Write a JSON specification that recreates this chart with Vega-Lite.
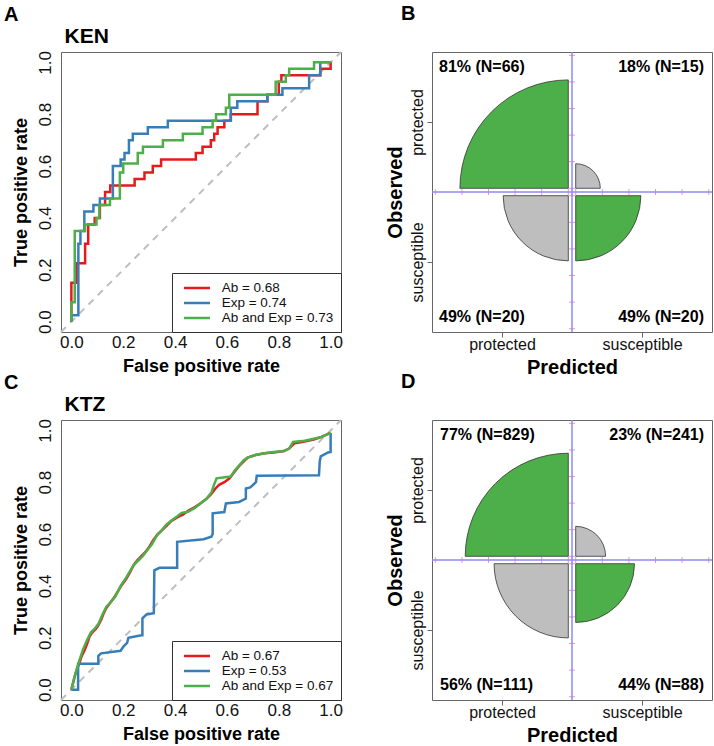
{
"$schema":"https://vega.github.io/schema/vega-lite/v6.json",
"padding":{"left":3,"top":3,"right":3,"bottom":0},
"background":"white",
"config":{
 "font":"Liberation Sans",
 "view":{"stroke":"#666","strokeWidth":1},
 "axis":{"grid":false,"domain":false,"tickColor":"#444","tickWidth":1,"labelColor":"#111","titleColor":"#000","titleFontWeight":"bold","labelFont":"Liberation Sans","titleFont":"Liberation Sans","labelFlush":false,"labelOverlap":false},
 "legend":{"orient":"bottom-right","offset":0,"padding":7,"strokeColor":"#333","fillColor":"white","symbolType":"M-0.46,0H3.54","symbolSize":169,"symbolStrokeWidth":2.5,"symbolOffset":0,"labelOffset":26.7,"rowPadding":0,"labelFontSize":13.5,"labelFont":"Liberation Sans","labelColor":"#111"},
 "title":{"font":"Liberation Sans","fontWeight":"bold","color":"#000","anchor":"start","frame":"group"}
},
"datasets":{
 "ken":[
  {"m":"Ab = 0.68","i":0,"x":0,"y":0},{"m":"Ab = 0.68","i":1,"x":0,"y":0.15},{"m":"Ab = 0.68","i":2,"x":0.02,"y":0.15},{"m":"Ab = 0.68","i":3,"x":0.02,"y":0.225},{"m":"Ab = 0.68","i":4,"x":0.053,"y":0.225},{"m":"Ab = 0.68","i":5,"x":0.053,"y":0.3},{"m":"Ab = 0.68","i":6,"x":0.065,"y":0.3},{"m":"Ab = 0.68","i":7,"x":0.065,"y":0.375},{"m":"Ab = 0.68","i":8,"x":0.09,"y":0.375},{"m":"Ab = 0.68","i":9,"x":0.09,"y":0.4},{"m":"Ab = 0.68","i":10,"x":0.11,"y":0.4},{"m":"Ab = 0.68","i":11,"x":0.11,"y":0.45},{"m":"Ab = 0.68","i":12,"x":0.13,"y":0.45},{"m":"Ab = 0.68","i":13,"x":0.13,"y":0.5},{"m":"Ab = 0.68","i":14,"x":0.15,"y":0.5},{"m":"Ab = 0.68","i":15,"x":0.15,"y":0.525},{"m":"Ab = 0.68","i":16,"x":0.244,"y":0.525},{"m":"Ab = 0.68","i":17,"x":0.244,"y":0.55},{"m":"Ab = 0.68","i":18,"x":0.282,"y":0.55},{"m":"Ab = 0.68","i":19,"x":0.282,"y":0.575},{"m":"Ab = 0.68","i":20,"x":0.314,"y":0.575},{"m":"Ab = 0.68","i":21,"x":0.314,"y":0.6},{"m":"Ab = 0.68","i":22,"x":0.346,"y":0.6},{"m":"Ab = 0.68","i":23,"x":0.346,"y":0.625},{"m":"Ab = 0.68","i":24,"x":0.48,"y":0.625},{"m":"Ab = 0.68","i":25,"x":0.48,"y":0.65},{"m":"Ab = 0.68","i":26,"x":0.506,"y":0.65},{"m":"Ab = 0.68","i":27,"x":0.506,"y":0.675},{"m":"Ab = 0.68","i":28,"x":0.538,"y":0.675},{"m":"Ab = 0.68","i":29,"x":0.538,"y":0.7},{"m":"Ab = 0.68","i":30,"x":0.551,"y":0.7},{"m":"Ab = 0.68","i":31,"x":0.551,"y":0.725},{"m":"Ab = 0.68","i":32,"x":0.564,"y":0.725},{"m":"Ab = 0.68","i":33,"x":0.564,"y":0.75},{"m":"Ab = 0.68","i":34,"x":0.59,"y":0.75},{"m":"Ab = 0.68","i":35,"x":0.59,"y":0.775},{"m":"Ab = 0.68","i":36,"x":0.615,"y":0.775},{"m":"Ab = 0.68","i":37,"x":0.615,"y":0.8},{"m":"Ab = 0.68","i":38,"x":0.718,"y":0.8},{"m":"Ab = 0.68","i":39,"x":0.718,"y":0.85},{"m":"Ab = 0.68","i":40,"x":0.756,"y":0.85},{"m":"Ab = 0.68","i":41,"x":0.756,"y":0.875},{"m":"Ab = 0.68","i":42,"x":0.8,"y":0.875},{"m":"Ab = 0.68","i":43,"x":0.8,"y":0.925},{"m":"Ab = 0.68","i":44,"x":0.81,"y":0.925},{"m":"Ab = 0.68","i":45,"x":0.81,"y":0.95},{"m":"Ab = 0.68","i":46,"x":0.96,"y":0.95},{"m":"Ab = 0.68","i":47,"x":0.96,"y":0.975},{"m":"Ab = 0.68","i":48,"x":1,"y":0.975},{"m":"Ab = 0.68","i":49,"x":1,"y":1},
  {"m":"Exp = 0.74","i":0,"x":0,"y":0},{"m":"Exp = 0.74","i":1,"x":0,"y":0.025},{"m":"Exp = 0.74","i":2,"x":0.027,"y":0.025},{"m":"Exp = 0.74","i":3,"x":0.027,"y":0.3},{"m":"Exp = 0.74","i":4,"x":0.035,"y":0.3},{"m":"Exp = 0.74","i":5,"x":0.035,"y":0.35},{"m":"Exp = 0.74","i":6,"x":0.05,"y":0.35},{"m":"Exp = 0.74","i":7,"x":0.05,"y":0.425},{"m":"Exp = 0.74","i":8,"x":0.085,"y":0.425},{"m":"Exp = 0.74","i":9,"x":0.085,"y":0.45},{"m":"Exp = 0.74","i":10,"x":0.11,"y":0.45},{"m":"Exp = 0.74","i":11,"x":0.11,"y":0.475},{"m":"Exp = 0.74","i":12,"x":0.16,"y":0.475},{"m":"Exp = 0.74","i":13,"x":0.16,"y":0.6},{"m":"Exp = 0.74","i":14,"x":0.19,"y":0.6},{"m":"Exp = 0.74","i":15,"x":0.19,"y":0.625},{"m":"Exp = 0.74","i":16,"x":0.205,"y":0.625},{"m":"Exp = 0.74","i":17,"x":0.205,"y":0.65},{"m":"Exp = 0.74","i":18,"x":0.222,"y":0.65},{"m":"Exp = 0.74","i":19,"x":0.222,"y":0.7},{"m":"Exp = 0.74","i":20,"x":0.237,"y":0.7},{"m":"Exp = 0.74","i":21,"x":0.237,"y":0.725},{"m":"Exp = 0.74","i":22,"x":0.295,"y":0.725},{"m":"Exp = 0.74","i":23,"x":0.295,"y":0.75},{"m":"Exp = 0.74","i":24,"x":0.372,"y":0.75},{"m":"Exp = 0.74","i":25,"x":0.372,"y":0.775},{"m":"Exp = 0.74","i":26,"x":0.615,"y":0.775},{"m":"Exp = 0.74","i":27,"x":0.615,"y":0.825},{"m":"Exp = 0.74","i":28,"x":0.64,"y":0.825},{"m":"Exp = 0.74","i":29,"x":0.64,"y":0.85},{"m":"Exp = 0.74","i":30,"x":0.756,"y":0.85},{"m":"Exp = 0.74","i":31,"x":0.756,"y":0.875},{"m":"Exp = 0.74","i":32,"x":0.814,"y":0.875},{"m":"Exp = 0.74","i":33,"x":0.814,"y":0.9},{"m":"Exp = 0.74","i":34,"x":0.917,"y":0.9},{"m":"Exp = 0.74","i":35,"x":0.917,"y":0.95},{"m":"Exp = 0.74","i":36,"x":0.96,"y":0.95},{"m":"Exp = 0.74","i":37,"x":0.96,"y":1},{"m":"Exp = 0.74","i":38,"x":1,"y":1},
  {"m":"Ab and Exp = 0.73","i":0,"x":0,"y":0},{"m":"Ab and Exp = 0.73","i":1,"x":0,"y":0.075},{"m":"Ab and Exp = 0.73","i":2,"x":0.013,"y":0.075},{"m":"Ab and Exp = 0.73","i":3,"x":0.013,"y":0.35},{"m":"Ab and Exp = 0.73","i":4,"x":0.053,"y":0.35},{"m":"Ab and Exp = 0.73","i":5,"x":0.053,"y":0.375},{"m":"Ab and Exp = 0.73","i":6,"x":0.097,"y":0.375},{"m":"Ab and Exp = 0.73","i":7,"x":0.097,"y":0.4},{"m":"Ab and Exp = 0.73","i":8,"x":0.108,"y":0.4},{"m":"Ab and Exp = 0.73","i":9,"x":0.108,"y":0.45},{"m":"Ab and Exp = 0.73","i":10,"x":0.149,"y":0.45},{"m":"Ab and Exp = 0.73","i":11,"x":0.149,"y":0.475},{"m":"Ab and Exp = 0.73","i":12,"x":0.187,"y":0.475},{"m":"Ab and Exp = 0.73","i":13,"x":0.187,"y":0.575},{"m":"Ab and Exp = 0.73","i":14,"x":0.2,"y":0.575},{"m":"Ab and Exp = 0.73","i":15,"x":0.2,"y":0.61},{"m":"Ab and Exp = 0.73","i":16,"x":0.256,"y":0.61},{"m":"Ab and Exp = 0.73","i":17,"x":0.256,"y":0.65},{"m":"Ab and Exp = 0.73","i":18,"x":0.276,"y":0.65},{"m":"Ab and Exp = 0.73","i":19,"x":0.276,"y":0.675},{"m":"Ab and Exp = 0.73","i":20,"x":0.353,"y":0.675},{"m":"Ab and Exp = 0.73","i":21,"x":0.353,"y":0.7},{"m":"Ab and Exp = 0.73","i":22,"x":0.43,"y":0.7},{"m":"Ab and Exp = 0.73","i":23,"x":0.43,"y":0.725},{"m":"Ab and Exp = 0.73","i":24,"x":0.506,"y":0.725},{"m":"Ab and Exp = 0.73","i":25,"x":0.506,"y":0.75},{"m":"Ab and Exp = 0.73","i":26,"x":0.545,"y":0.75},{"m":"Ab and Exp = 0.73","i":27,"x":0.545,"y":0.775},{"m":"Ab and Exp = 0.73","i":28,"x":0.558,"y":0.775},{"m":"Ab and Exp = 0.73","i":29,"x":0.558,"y":0.8},{"m":"Ab and Exp = 0.73","i":30,"x":0.596,"y":0.8},{"m":"Ab and Exp = 0.73","i":31,"x":0.596,"y":0.825},{"m":"Ab and Exp = 0.73","i":32,"x":0.609,"y":0.825},{"m":"Ab and Exp = 0.73","i":33,"x":0.609,"y":0.875},{"m":"Ab and Exp = 0.73","i":34,"x":0.788,"y":0.875},{"m":"Ab and Exp = 0.73","i":35,"x":0.788,"y":0.925},{"m":"Ab and Exp = 0.73","i":36,"x":0.827,"y":0.925},{"m":"Ab and Exp = 0.73","i":37,"x":0.827,"y":0.95},{"m":"Ab and Exp = 0.73","i":38,"x":0.84,"y":0.95},{"m":"Ab and Exp = 0.73","i":39,"x":0.84,"y":0.975},{"m":"Ab and Exp = 0.73","i":40,"x":0.936,"y":0.975},{"m":"Ab and Exp = 0.73","i":41,"x":0.936,"y":1},{"m":"Ab and Exp = 0.73","i":42,"x":1,"y":1}
 ],
 "ktz":[
  {"m":"Ab = 0.67","i":0,"x":0,"y":0},{"m":"Ab = 0.67","i":1,"x":0.01,"y":0.04},{"m":"Ab = 0.67","i":2,"x":0.02,"y":0.075},{"m":"Ab = 0.67","i":3,"x":0.03,"y":0.1},{"m":"Ab = 0.67","i":4,"x":0.04,"y":0.13},{"m":"Ab = 0.67","i":5,"x":0.05,"y":0.15},{"m":"Ab = 0.67","i":6,"x":0.06,"y":0.175},{"m":"Ab = 0.67","i":7,"x":0.07,"y":0.205},{"m":"Ab = 0.67","i":8,"x":0.08,"y":0.22},{"m":"Ab = 0.67","i":9,"x":0.095,"y":0.235},{"m":"Ab = 0.67","i":10,"x":0.105,"y":0.25},{"m":"Ab = 0.67","i":11,"x":0.115,"y":0.27},{"m":"Ab = 0.67","i":12,"x":0.125,"y":0.295},{"m":"Ab = 0.67","i":13,"x":0.135,"y":0.315},{"m":"Ab = 0.67","i":14,"x":0.15,"y":0.335},{"m":"Ab = 0.67","i":15,"x":0.165,"y":0.355},{"m":"Ab = 0.67","i":16,"x":0.18,"y":0.38},{"m":"Ab = 0.67","i":17,"x":0.195,"y":0.405},{"m":"Ab = 0.67","i":18,"x":0.21,"y":0.425},{"m":"Ab = 0.67","i":19,"x":0.225,"y":0.45},{"m":"Ab = 0.67","i":20,"x":0.24,"y":0.48},{"m":"Ab = 0.67","i":21,"x":0.255,"y":0.5},{"m":"Ab = 0.67","i":22,"x":0.27,"y":0.515},{"m":"Ab = 0.67","i":23,"x":0.285,"y":0.53},{"m":"Ab = 0.67","i":24,"x":0.3,"y":0.55},{"m":"Ab = 0.67","i":25,"x":0.315,"y":0.575},{"m":"Ab = 0.67","i":26,"x":0.333,"y":0.6},{"m":"Ab = 0.67","i":27,"x":0.35,"y":0.615},{"m":"Ab = 0.67","i":28,"x":0.37,"y":0.635},{"m":"Ab = 0.67","i":29,"x":0.385,"y":0.65},{"m":"Ab = 0.67","i":30,"x":0.41,"y":0.665},{"m":"Ab = 0.67","i":31,"x":0.43,"y":0.675},{"m":"Ab = 0.67","i":32,"x":0.45,"y":0.69},{"m":"Ab = 0.67","i":33,"x":0.475,"y":0.703},{"m":"Ab = 0.67","i":34,"x":0.5,"y":0.72},{"m":"Ab = 0.67","i":35,"x":0.52,"y":0.735},{"m":"Ab = 0.67","i":36,"x":0.54,"y":0.755},{"m":"Ab = 0.67","i":37,"x":0.555,"y":0.775},{"m":"Ab = 0.67","i":38,"x":0.57,"y":0.79},{"m":"Ab = 0.67","i":39,"x":0.59,"y":0.8},{"m":"Ab = 0.67","i":40,"x":0.61,"y":0.815},{"m":"Ab = 0.67","i":41,"x":0.625,"y":0.835},{"m":"Ab = 0.67","i":42,"x":0.645,"y":0.86},{"m":"Ab = 0.67","i":43,"x":0.665,"y":0.88},{"m":"Ab = 0.67","i":44,"x":0.68,"y":0.895},{"m":"Ab = 0.67","i":45,"x":0.71,"y":0.905},{"m":"Ab = 0.67","i":46,"x":0.745,"y":0.912},{"m":"Ab = 0.67","i":47,"x":0.78,"y":0.915},{"m":"Ab = 0.67","i":48,"x":0.82,"y":0.92},{"m":"Ab = 0.67","i":49,"x":0.84,"y":0.93},{"m":"Ab = 0.67","i":50,"x":0.86,"y":0.95},{"m":"Ab = 0.67","i":51,"x":0.89,"y":0.955},{"m":"Ab = 0.67","i":52,"x":0.935,"y":0.965},{"m":"Ab = 0.67","i":53,"x":0.965,"y":0.975},{"m":"Ab = 0.67","i":54,"x":1,"y":0.99},
  {"m":"Exp = 0.53","i":0,"x":0,"y":0},{"m":"Exp = 0.53","i":1,"x":0.026,"y":0},{"m":"Exp = 0.53","i":2,"x":0.026,"y":0.1},{"m":"Exp = 0.53","i":3,"x":0.104,"y":0.1},{"m":"Exp = 0.53","i":4,"x":0.104,"y":0.13},{"m":"Exp = 0.53","i":5,"x":0.115,"y":0.14},{"m":"Exp = 0.53","i":6,"x":0.19,"y":0.15},{"m":"Exp = 0.53","i":7,"x":0.2,"y":0.165},{"m":"Exp = 0.53","i":8,"x":0.215,"y":0.18},{"m":"Exp = 0.53","i":9,"x":0.22,"y":0.2},{"m":"Exp = 0.53","i":10,"x":0.27,"y":0.21},{"m":"Exp = 0.53","i":11,"x":0.274,"y":0.21},{"m":"Exp = 0.53","i":12,"x":0.274,"y":0.275},{"m":"Exp = 0.53","i":13,"x":0.29,"y":0.29},{"m":"Exp = 0.53","i":14,"x":0.318,"y":0.295},{"m":"Exp = 0.53","i":15,"x":0.32,"y":0.46},{"m":"Exp = 0.53","i":16,"x":0.34,"y":0.47},{"m":"Exp = 0.53","i":17,"x":0.408,"y":0.47},{"m":"Exp = 0.53","i":18,"x":0.408,"y":0.57},{"m":"Exp = 0.53","i":19,"x":0.51,"y":0.58},{"m":"Exp = 0.53","i":20,"x":0.54,"y":0.59},{"m":"Exp = 0.53","i":21,"x":0.545,"y":0.6},{"m":"Exp = 0.53","i":22,"x":0.545,"y":0.68},{"m":"Exp = 0.53","i":23,"x":0.59,"y":0.685},{"m":"Exp = 0.53","i":24,"x":0.596,"y":0.718},{"m":"Exp = 0.53","i":25,"x":0.647,"y":0.724},{"m":"Exp = 0.53","i":26,"x":0.673,"y":0.737},{"m":"Exp = 0.53","i":27,"x":0.673,"y":0.776},{"m":"Exp = 0.53","i":28,"x":0.69,"y":0.78},{"m":"Exp = 0.53","i":29,"x":0.712,"y":0.8},{"m":"Exp = 0.53","i":30,"x":0.715,"y":0.825},{"m":"Exp = 0.53","i":31,"x":0.955,"y":0.827},{"m":"Exp = 0.53","i":32,"x":0.958,"y":0.88},{"m":"Exp = 0.53","i":33,"x":0.962,"y":0.9},{"m":"Exp = 0.53","i":34,"x":0.99,"y":0.915},{"m":"Exp = 0.53","i":35,"x":1,"y":0.917},{"m":"Exp = 0.53","i":36,"x":1,"y":0.99},
  {"m":"Ab and Exp = 0.67","i":0,"x":0,"y":0},{"m":"Ab and Exp = 0.67","i":1,"x":0.015,"y":0.06},{"m":"Ab and Exp = 0.67","i":2,"x":0.03,"y":0.11},{"m":"Ab and Exp = 0.67","i":3,"x":0.045,"y":0.155},{"m":"Ab and Exp = 0.67","i":4,"x":0.06,"y":0.19},{"m":"Ab and Exp = 0.67","i":5,"x":0.075,"y":0.22},{"m":"Ab and Exp = 0.67","i":6,"x":0.09,"y":0.235},{"m":"Ab and Exp = 0.67","i":7,"x":0.105,"y":0.255},{"m":"Ab and Exp = 0.67","i":8,"x":0.12,"y":0.29},{"m":"Ab and Exp = 0.67","i":9,"x":0.135,"y":0.32},{"m":"Ab and Exp = 0.67","i":10,"x":0.15,"y":0.335},{"m":"Ab and Exp = 0.67","i":11,"x":0.17,"y":0.36},{"m":"Ab and Exp = 0.67","i":12,"x":0.19,"y":0.4},{"m":"Ab and Exp = 0.67","i":13,"x":0.21,"y":0.43},{"m":"Ab and Exp = 0.67","i":14,"x":0.225,"y":0.455},{"m":"Ab and Exp = 0.67","i":15,"x":0.24,"y":0.48},{"m":"Ab and Exp = 0.67","i":16,"x":0.26,"y":0.5},{"m":"Ab and Exp = 0.67","i":17,"x":0.275,"y":0.515},{"m":"Ab and Exp = 0.67","i":18,"x":0.29,"y":0.535},{"m":"Ab and Exp = 0.67","i":19,"x":0.31,"y":0.56},{"m":"Ab and Exp = 0.67","i":20,"x":0.33,"y":0.595},{"m":"Ab and Exp = 0.67","i":21,"x":0.345,"y":0.61},{"m":"Ab and Exp = 0.67","i":22,"x":0.365,"y":0.635},{"m":"Ab and Exp = 0.67","i":23,"x":0.39,"y":0.655},{"m":"Ab and Exp = 0.67","i":24,"x":0.41,"y":0.67},{"m":"Ab and Exp = 0.67","i":25,"x":0.425,"y":0.682},{"m":"Ab and Exp = 0.67","i":26,"x":0.45,"y":0.686},{"m":"Ab and Exp = 0.67","i":27,"x":0.475,"y":0.7},{"m":"Ab and Exp = 0.67","i":28,"x":0.5,"y":0.72},{"m":"Ab and Exp = 0.67","i":29,"x":0.52,"y":0.735},{"m":"Ab and Exp = 0.67","i":30,"x":0.54,"y":0.76},{"m":"Ab and Exp = 0.67","i":31,"x":0.55,"y":0.79},{"m":"Ab and Exp = 0.67","i":32,"x":0.56,"y":0.815},{"m":"Ab and Exp = 0.67","i":33,"x":0.6,"y":0.82},{"m":"Ab and Exp = 0.67","i":34,"x":0.615,"y":0.822},{"m":"Ab and Exp = 0.67","i":35,"x":0.63,"y":0.845},{"m":"Ab and Exp = 0.67","i":36,"x":0.645,"y":0.862},{"m":"Ab and Exp = 0.67","i":37,"x":0.665,"y":0.885},{"m":"Ab and Exp = 0.67","i":38,"x":0.68,"y":0.895},{"m":"Ab and Exp = 0.67","i":39,"x":0.71,"y":0.905},{"m":"Ab and Exp = 0.67","i":40,"x":0.745,"y":0.912},{"m":"Ab and Exp = 0.67","i":41,"x":0.78,"y":0.917},{"m":"Ab and Exp = 0.67","i":42,"x":0.82,"y":0.92},{"m":"Ab and Exp = 0.67","i":43,"x":0.84,"y":0.93},{"m":"Ab and Exp = 0.67","i":44,"x":0.855,"y":0.955},{"m":"Ab and Exp = 0.67","i":45,"x":0.9,"y":0.96},{"m":"Ab and Exp = 0.67","i":46,"x":0.935,"y":0.968},{"m":"Ab and Exp = 0.67","i":47,"x":0.965,"y":0.975},{"m":"Ab and Exp = 0.67","i":48,"x":1,"y":0.99}
 ],
 "ffB":[
  {"obs":"protected","pred":"protected","ok":"yes","prop":0.815,"lab":"81% (N=66)"},
  {"obs":"protected","pred":"susceptible","ok":"no","prop":0.185,"lab":"18% (N=15)"},
  {"obs":"susceptible","pred":"protected","ok":"no","prop":0.49,"lab":"49% (N=20)"},
  {"obs":"susceptible","pred":"susceptible","ok":"yes","prop":0.49,"lab":"49% (N=20)"}
 ],
 "ffD":[
  {"obs":"protected","pred":"protected","ok":"yes","prop":0.775,"lab":"77% (N=829)"},
  {"obs":"protected","pred":"susceptible","ok":"no","prop":0.225,"lab":"23% (N=241)"},
  {"obs":"susceptible","pred":"protected","ok":"no","prop":0.558,"lab":"56% (N=111)"},
  {"obs":"susceptible","pred":"susceptible","ok":"yes","prop":0.442,"lab":"44% (N=88)"}
 ],
 "ticks":[
  {"s":"L","u":0},{"s":"L","u":-0.2},{"s":"L","u":-0.4},{"s":"L","u":-0.6},{"s":"L","u":-0.8},{"s":"L","u":-1},
  {"s":"R","u":0},{"s":"R","u":0.2},{"s":"R","u":0.4},{"s":"R","u":0.6},{"s":"R","u":0.8},{"s":"R","u":1}
 ]
},
"columns":2,
"spacing":{"row":88,"column":91},
"bounds":"flush",
"resolve":{"scale":{"color":"independent","radius":"independent","x":"independent","y":"independent"},"legend":{"color":"independent"}},
"concat":[
 {"width":280,"height":280,
  "title":{"text":"A","fontSize":20,"dx":-57,"offset":0.5},
  "layer":[
   {"data":{"values":[{}]},"mark":{"type":"rule","strokeDash":[7,6],"color":"#BEBEBE","strokeWidth":2},
    "encoding":{"x":{"datum":-0.04,"type":"quantitative","scale":{"domain":[-0.04,1.04],"nice":false,"zero":false},"axis":{"orient":"top","labels":false,"ticks":false,"domain":false,"title":"KEN","titleFontSize":21,"titleAnchor":"start","titleAlign":"left","titleX":3,"titleY":-10,"titleBaseline":"alphabetic"}},"y":{"datum":-0.04,"type":"quantitative","scale":{"domain":[-0.04,1.04],"nice":false,"zero":false},"axis":{"values":[0,0.2,0.4,0.6,0.8,1],"format":".1f","title":"True positive rate","labelFontSize":17,"titleFontSize":18,"ticks":false,"labelPadding":6.4,"labelAngle":-90,"labelAlign":"center","labelBaseline":"bottom","titlePadding":6.6}},"x2":{"datum":1.04},"y2":{"datum":1.04}}},
   {"data":{"name":"ken"},"mark":{"type":"line","strokeWidth":2.5},
    "encoding":{
     "x":{"field":"x","type":"quantitative","scale":{"domain":[-0.04,1.04],"nice":false,"zero":false},"axis":{"orient":"bottom","values":[0,0.2,0.4,0.6,0.8,1],"format":".1f","title":"False positive rate","labelFontSize":17,"titleFontSize":18,"ticks":false,"labelPadding":2.5,"titlePadding":7}},
     "y":{"field":"y","type":"quantitative","scale":{"domain":[-0.04,1.04],"nice":false,"zero":false},"axis":{"values":[0,0.2,0.4,0.6,0.8,1],"format":".1f","title":"True positive rate","labelFontSize":17,"titleFontSize":18,"ticks":false,"labelPadding":6.4,"labelAngle":-90,"labelAlign":"center","labelBaseline":"bottom","titlePadding":6.6}},
     "color":{"field":"m","type":"nominal","scale":{"domain":["Ab = 0.68","Exp = 0.74","Ab and Exp = 0.73"],"range":["#E41A1C","#377EB8","#4DAF4A"]},"legend":{"title":null,"orient":"bottom-right"}},
     "order":{"field":"i","type":"quantitative"}}}
  ]},
 {"width":280,"height":280,
  "title":{"text":"B","fontSize":20,"dx":-31,"offset":27.5},
  "resolve":{"scale":{"x":"independent","y":"independent"}},
  "layer":[
   {"data":{"values":[{}]},"mark":{"type":"rule","color":"#8B8BEF","strokeWidth":1.5},
    "encoding":{"x":{"datum":0,"type":"quantitative","scale":{"domain":[-1.0526,1.0526],"nice":false,"zero":false},"axis":{"values":[-0.5263,0.5263],"labelExpr":"datum.value < 0 ? 'protected' : 'susceptible'","title":"Predicted","labelFontSize":16,"titleFontSize":20,"tickSize":5,"labelPadding":-1,"titlePadding":5,"tickColor":"#666"}}}},
   {"data":{"values":[{}]},"mark":{"type":"rule","color":"#8B8BEF","strokeWidth":1.5},
    "encoding":{"y":{"datum":0,"type":"quantitative","scale":{"domain":[-1.0526,1.0526],"nice":false,"zero":false},"axis":{"values":[-0.5263,0.5263],"labelExpr":"datum.value > 0 ? 'protected' : 'susceptible'","title":"Observed","labelFontSize":16,"titleFontSize":20,"tickSize":5,"labelPadding":2,"titlePadding":4,"tickColor":"#666","labelAngle":-90,"labelAlign":"center","labelBaseline":"bottom"}}}},
   {"data":{"name":"ticks"},"transform":[{"filter":"datum.s == 'L'"}],"mark":{"type":"tick","orient":"vertical","size":6,"thickness":1,"color":"#D36BD3","xOffset":-3.7},
    "encoding":{"x":{"field":"u","type":"quantitative","scale":{"domain":[-1.0526,1.0526],"nice":false,"zero":false},"axis":null},"y":{"datum":0,"type":"quantitative","scale":{"domain":[-1.0526,1.0526],"nice":false,"zero":false},"axis":null}}},
   {"data":{"name":"ticks"},"transform":[{"filter":"datum.s == 'R'"}],"mark":{"type":"tick","orient":"vertical","size":6,"thickness":1,"color":"#D36BD3","xOffset":3.7},
    "encoding":{"x":{"field":"u","type":"quantitative","scale":{"domain":[-1.0526,1.0526],"nice":false,"zero":false},"axis":null},"y":{"datum":0,"type":"quantitative","scale":{"domain":[-1.0526,1.0526],"nice":false,"zero":false},"axis":null}}},
   {"data":{"name":"ticks"},"transform":[{"filter":"datum.s == 'R'"}],"mark":{"type":"tick","orient":"horizontal","size":6,"thickness":1,"color":"#D36BD3","yOffset":-3.7},
    "encoding":{"y":{"field":"u","type":"quantitative","scale":{"domain":[-1.0526,1.0526],"nice":false,"zero":false},"axis":null},"x":{"datum":0,"type":"quantitative","scale":{"domain":[-1.0526,1.0526],"nice":false,"zero":false},"axis":null}}},
   {"data":{"name":"ticks"},"transform":[{"filter":"datum.s == 'L'"}],"mark":{"type":"tick","orient":"horizontal","size":6,"thickness":1,"color":"#D36BD3","yOffset":3.7},
    "encoding":{"y":{"field":"u","type":"quantitative","scale":{"domain":[-1.0526,1.0526],"nice":false,"zero":false},"axis":null},"x":{"datum":0,"type":"quantitative","scale":{"domain":[-1.0526,1.0526],"nice":false,"zero":false},"axis":null}}},
   {"data":{"name":"ffB"},"transform":[{"filter":"datum.obs == 'protected' && datum.pred == 'protected'"}],"mark":{"type":"arc","theta":4.712389,"theta2":6.283185,"xOffset":-3.7,"yOffset":-3.7,"stroke":"#333","strokeWidth":0.8},
    "encoding":{"radius":{"field":"prop","type":"quantitative","scale":{"type":"linear","domain":[0,1],"range":[0,133],"zero":true}},"color":{"field":"ok","type":"nominal","scale":{"domain":["yes","no"],"range":["#4DAF4A","#BEBEBE"]},"legend":null}}},
   {"data":{"name":"ffB"},"transform":[{"filter":"datum.obs == 'protected' && datum.pred == 'susceptible'"}],"mark":{"type":"arc","theta":0,"theta2":1.570796,"xOffset":3.7,"yOffset":-3.7,"stroke":"#333","strokeWidth":0.8},
    "encoding":{"radius":{"field":"prop","type":"quantitative","scale":{"type":"linear","domain":[0,1],"range":[0,133],"zero":true}},"color":{"field":"ok","type":"nominal","scale":{"domain":["yes","no"],"range":["#4DAF4A","#BEBEBE"]},"legend":null}}},
   {"data":{"name":"ffB"},"transform":[{"filter":"datum.obs == 'susceptible' && datum.pred == 'susceptible'"}],"mark":{"type":"arc","theta":1.570796,"theta2":3.141593,"xOffset":3.7,"yOffset":3.7,"stroke":"#333","strokeWidth":0.8},
    "encoding":{"radius":{"field":"prop","type":"quantitative","scale":{"type":"linear","domain":[0,1],"range":[0,133],"zero":true}},"color":{"field":"ok","type":"nominal","scale":{"domain":["yes","no"],"range":["#4DAF4A","#BEBEBE"]},"legend":null}}},
   {"data":{"name":"ffB"},"transform":[{"filter":"datum.obs == 'susceptible' && datum.pred == 'protected'"}],"mark":{"type":"arc","theta":3.141593,"theta2":4.712389,"xOffset":-3.7,"yOffset":3.7,"stroke":"#333","strokeWidth":0.8},
    "encoding":{"radius":{"field":"prop","type":"quantitative","scale":{"type":"linear","domain":[0,1],"range":[0,133],"zero":true}},"color":{"field":"ok","type":"nominal","scale":{"domain":["yes","no"],"range":["#4DAF4A","#BEBEBE"]},"legend":null}}},
   {"data":{"name":"ffB"},"mark":{"type":"text","fontSize":16,"fontWeight":"bold","color":"#000","align":{"expr":"datum.pred == 'protected' ? 'left' : 'right'"},"baseline":{"expr":"datum.obs == 'protected' ? 'top' : 'bottom'"}},
    "encoding":{"x":{"field":"pred","type":"ordinal","scale":{"type":"point","domain":["protected","susceptible"],"range":[7,272],"padding":0},"axis":null},"y":{"field":"obs","type":"ordinal","scale":{"type":"point","domain":["protected","susceptible"],"range":[7,273],"padding":0},"axis":null},"text":{"field":"lab"}}}
  ]},
 {"width":280,"height":280,
  "title":{"text":"C","fontSize":20,"dx":-57,"offset":0.5},
  "layer":[
   {"data":{"values":[{}]},"mark":{"type":"rule","strokeDash":[7,6],"color":"#BEBEBE","strokeWidth":2},
    "encoding":{"x":{"datum":-0.04,"type":"quantitative","scale":{"domain":[-0.04,1.04],"nice":false,"zero":false},"axis":{"orient":"top","labels":false,"ticks":false,"domain":false,"title":"KTZ","titleFontSize":21,"titleAnchor":"start","titleAlign":"left","titleX":3,"titleY":-10,"titleBaseline":"alphabetic"}},"y":{"datum":-0.04,"type":"quantitative","scale":{"domain":[-0.04,1.04],"nice":false,"zero":false},"axis":{"values":[0,0.2,0.4,0.6,0.8,1],"format":".1f","title":"True positive rate","labelFontSize":17,"titleFontSize":18,"ticks":false,"labelPadding":6.4,"labelAngle":-90,"labelAlign":"center","labelBaseline":"bottom","titlePadding":6.6}},"x2":{"datum":1.04},"y2":{"datum":1.04}}},
   {"data":{"name":"ktz"},"mark":{"type":"line","strokeWidth":2.5},
    "encoding":{
     "x":{"field":"x","type":"quantitative","scale":{"domain":[-0.04,1.04],"nice":false,"zero":false},"axis":{"orient":"bottom","values":[0,0.2,0.4,0.6,0.8,1],"format":".1f","title":"False positive rate","labelFontSize":17,"titleFontSize":18,"ticks":false,"labelPadding":2.5,"titlePadding":7}},
     "y":{"field":"y","type":"quantitative","scale":{"domain":[-0.04,1.04],"nice":false,"zero":false},"axis":{"values":[0,0.2,0.4,0.6,0.8,1],"format":".1f","title":"True positive rate","labelFontSize":17,"titleFontSize":18,"ticks":false,"labelPadding":6.4,"labelAngle":-90,"labelAlign":"center","labelBaseline":"bottom","titlePadding":6.6}},
     "color":{"field":"m","type":"nominal","scale":{"domain":["Ab = 0.67","Exp = 0.53","Ab and Exp = 0.67"],"range":["#E41A1C","#377EB8","#4DAF4A"]},"legend":{"title":null,"orient":"bottom-right"}},
     "order":{"field":"i","type":"quantitative"}}}
  ]},
 {"width":280,"height":280,
  "title":{"text":"D","fontSize":20,"dx":-31,"offset":27.5},
  "resolve":{"scale":{"x":"independent","y":"independent"}},
  "layer":[
   {"data":{"values":[{}]},"mark":{"type":"rule","color":"#8B8BEF","strokeWidth":1.5},
    "encoding":{"x":{"datum":0,"type":"quantitative","scale":{"domain":[-1.0526,1.0526],"nice":false,"zero":false},"axis":{"values":[-0.5263,0.5263],"labelExpr":"datum.value < 0 ? 'protected' : 'susceptible'","title":"Predicted","labelFontSize":16,"titleFontSize":20,"tickSize":5,"labelPadding":-1,"titlePadding":5,"tickColor":"#666"}}}},
   {"data":{"values":[{}]},"mark":{"type":"rule","color":"#8B8BEF","strokeWidth":1.5},
    "encoding":{"y":{"datum":0,"type":"quantitative","scale":{"domain":[-1.0526,1.0526],"nice":false,"zero":false},"axis":{"values":[-0.5263,0.5263],"labelExpr":"datum.value > 0 ? 'protected' : 'susceptible'","title":"Observed","labelFontSize":16,"titleFontSize":20,"tickSize":5,"labelPadding":2,"titlePadding":4,"tickColor":"#666","labelAngle":-90,"labelAlign":"center","labelBaseline":"bottom"}}}},
   {"data":{"name":"ticks"},"transform":[{"filter":"datum.s == 'L'"}],"mark":{"type":"tick","orient":"vertical","size":6,"thickness":1,"color":"#D36BD3","xOffset":-3.7},
    "encoding":{"x":{"field":"u","type":"quantitative","scale":{"domain":[-1.0526,1.0526],"nice":false,"zero":false},"axis":null},"y":{"datum":0,"type":"quantitative","scale":{"domain":[-1.0526,1.0526],"nice":false,"zero":false},"axis":null}}},
   {"data":{"name":"ticks"},"transform":[{"filter":"datum.s == 'R'"}],"mark":{"type":"tick","orient":"vertical","size":6,"thickness":1,"color":"#D36BD3","xOffset":3.7},
    "encoding":{"x":{"field":"u","type":"quantitative","scale":{"domain":[-1.0526,1.0526],"nice":false,"zero":false},"axis":null},"y":{"datum":0,"type":"quantitative","scale":{"domain":[-1.0526,1.0526],"nice":false,"zero":false},"axis":null}}},
   {"data":{"name":"ticks"},"transform":[{"filter":"datum.s == 'R'"}],"mark":{"type":"tick","orient":"horizontal","size":6,"thickness":1,"color":"#D36BD3","yOffset":-3.7},
    "encoding":{"y":{"field":"u","type":"quantitative","scale":{"domain":[-1.0526,1.0526],"nice":false,"zero":false},"axis":null},"x":{"datum":0,"type":"quantitative","scale":{"domain":[-1.0526,1.0526],"nice":false,"zero":false},"axis":null}}},
   {"data":{"name":"ticks"},"transform":[{"filter":"datum.s == 'L'"}],"mark":{"type":"tick","orient":"horizontal","size":6,"thickness":1,"color":"#D36BD3","yOffset":3.7},
    "encoding":{"y":{"field":"u","type":"quantitative","scale":{"domain":[-1.0526,1.0526],"nice":false,"zero":false},"axis":null},"x":{"datum":0,"type":"quantitative","scale":{"domain":[-1.0526,1.0526],"nice":false,"zero":false},"axis":null}}},
   {"data":{"name":"ffD"},"transform":[{"filter":"datum.obs == 'protected' && datum.pred == 'protected'"}],"mark":{"type":"arc","theta":4.712389,"theta2":6.283185,"xOffset":-3.7,"yOffset":-3.7,"stroke":"#333","strokeWidth":0.8},
    "encoding":{"radius":{"field":"prop","type":"quantitative","scale":{"type":"linear","domain":[0,1],"range":[0,133],"zero":true}},"color":{"field":"ok","type":"nominal","scale":{"domain":["yes","no"],"range":["#4DAF4A","#BEBEBE"]},"legend":null}}},
   {"data":{"name":"ffD"},"transform":[{"filter":"datum.obs == 'protected' && datum.pred == 'susceptible'"}],"mark":{"type":"arc","theta":0,"theta2":1.570796,"xOffset":3.7,"yOffset":-3.7,"stroke":"#333","strokeWidth":0.8},
    "encoding":{"radius":{"field":"prop","type":"quantitative","scale":{"type":"linear","domain":[0,1],"range":[0,133],"zero":true}},"color":{"field":"ok","type":"nominal","scale":{"domain":["yes","no"],"range":["#4DAF4A","#BEBEBE"]},"legend":null}}},
   {"data":{"name":"ffD"},"transform":[{"filter":"datum.obs == 'susceptible' && datum.pred == 'susceptible'"}],"mark":{"type":"arc","theta":1.570796,"theta2":3.141593,"xOffset":3.7,"yOffset":3.7,"stroke":"#333","strokeWidth":0.8},
    "encoding":{"radius":{"field":"prop","type":"quantitative","scale":{"type":"linear","domain":[0,1],"range":[0,133],"zero":true}},"color":{"field":"ok","type":"nominal","scale":{"domain":["yes","no"],"range":["#4DAF4A","#BEBEBE"]},"legend":null}}},
   {"data":{"name":"ffD"},"transform":[{"filter":"datum.obs == 'susceptible' && datum.pred == 'protected'"}],"mark":{"type":"arc","theta":3.141593,"theta2":4.712389,"xOffset":-3.7,"yOffset":3.7,"stroke":"#333","strokeWidth":0.8},
    "encoding":{"radius":{"field":"prop","type":"quantitative","scale":{"type":"linear","domain":[0,1],"range":[0,133],"zero":true}},"color":{"field":"ok","type":"nominal","scale":{"domain":["yes","no"],"range":["#4DAF4A","#BEBEBE"]},"legend":null}}},
   {"data":{"name":"ffD"},"mark":{"type":"text","fontSize":16,"fontWeight":"bold","color":"#000","align":{"expr":"datum.pred == 'protected' ? 'left' : 'right'"},"baseline":{"expr":"datum.obs == 'protected' ? 'top' : 'bottom'"}},
    "encoding":{"x":{"field":"pred","type":"ordinal","scale":{"type":"point","domain":["protected","susceptible"],"range":[8,272],"padding":0},"axis":null},"y":{"field":"obs","type":"ordinal","scale":{"type":"point","domain":["protected","susceptible"],"range":[7,273],"padding":0},"axis":null},"text":{"field":"lab"}}}
  ]}
]
}
